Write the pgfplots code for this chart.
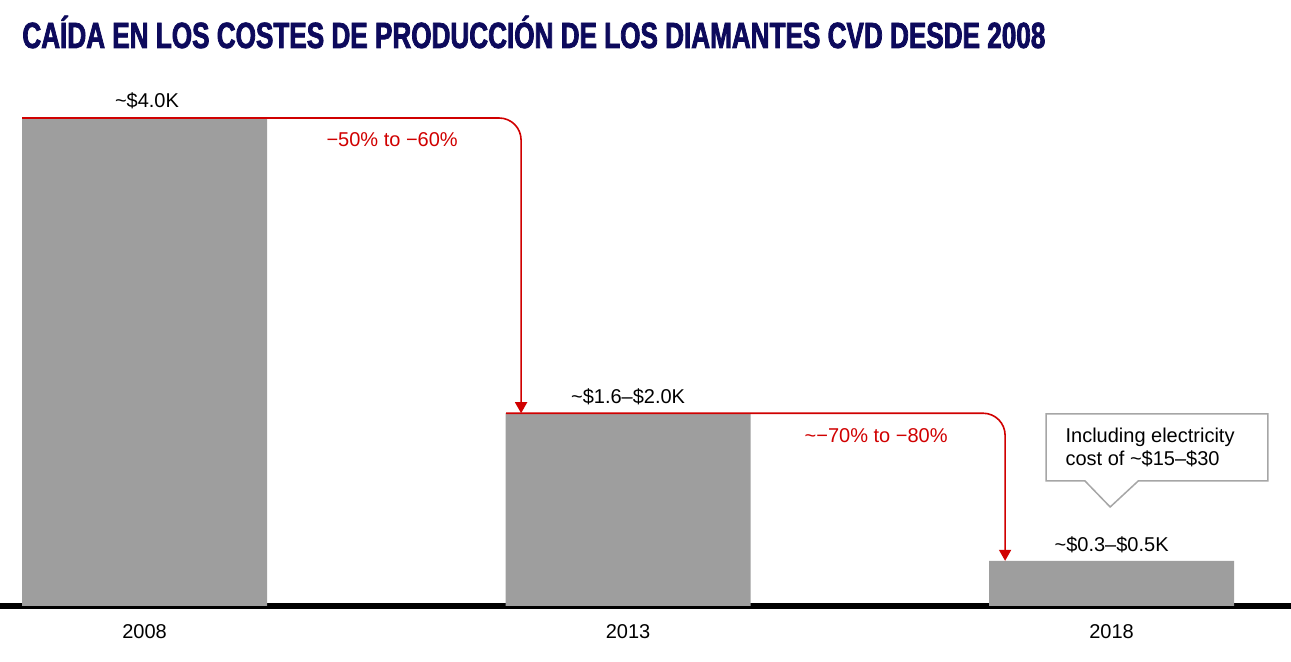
\documentclass[border=0pt]{standalone}
\usepackage{pgfplots}
\pgfplotsset{compat=1.18}
\usepackage{fontspec}
\usepackage{graphicx}
\usetikzlibrary{arrows.meta}
\setmainfont{Liberation Sans}
\newfontfamily\titlefont[FakeStretch=0.69,FakeBold=2]{Liberation Sans Bold}
\definecolor{bargray}{HTML}{9E9E9E}
\definecolor{arrred}{HTML}{D00000}
\definecolor{titlenavy}{HTML}{0D0A5C}
\definecolor{boxgray}{HTML}{A6A6A6}
\begin{document}
\begin{tikzpicture}
\useasboundingbox (0pt,-28pt) rectangle (645.5pt,303pt);
\begin{axis}[
  at={(0pt,0pt)}, anchor=south west,
  scale only axis,
  width=645.5pt, height=268.4pt,
  xmin=-0.299, xmax=2.371,
  ymin=0, ymax=4.4,
  axis x line=bottom, axis y line=none,
  x axis line style={-, line width=3pt, black},
  xtick={0,1,2},
  xticklabels={2008,2013,2018},
  major tick length=0pt,
  xticklabel style={font=\fontsize{10}{12}\selectfont, anchor=north, yshift=-5.6pt},
  ytick=\empty,
  clip=false,
]
\addplot[ybar, bar width=122.5pt, fill=bargray, draw=none] coordinates {(0,4.0) (1,1.58) (2,0.37)};

% connectors
\draw[arrred, line width=0.8pt, rounded corners=11pt, -{Triangle[width=6pt,length=5.5pt]}]
  (axis cs:-0.2534,4.0) -- (axis cs:0.7787,4.0) -- (axis cs:0.7787,1.58);
\draw[arrred, line width=0.8pt, rounded corners=11pt, -{Triangle[width=6pt,length=5.5pt]}]
  (axis cs:0.7477,1.58) -- (axis cs:1.7797,1.58) -- (axis cs:1.7797,0.37);

\node[font=\fontsize{10}{12}\selectfont, text=arrred] at (axis cs:0.512,3.82) {−50\% to −60\%};
\node[font=\fontsize{10}{12}\selectfont, text=arrred] at (axis cs:1.513,1.393) {\textasciitilde−70\% to −80\%};

\node[font=\fontsize{10}{12}\selectfont] at (axis cs:0.005,4.14) {\textasciitilde\$4.0K};
\node[font=\fontsize{10}{12}\selectfont] at (axis cs:1.0,1.713) {\textasciitilde\$1.6--\$2.0K};
\node[font=\fontsize{10}{12}\selectfont] at (axis cs:2.0,0.5) {\textasciitilde\$0.3--\$0.5K};

% callout
\draw[boxgray, line width=0.75pt, fill=white]
  (axis cs:1.8644,1.5738) -- (axis cs:2.3231,1.5738) -- (axis cs:2.3231,1.0246)
  -- (axis cs:2.055,1.0246) -- (axis cs:1.997,0.8115) -- (axis cs:1.945,1.0246)
  -- (axis cs:1.8644,1.0246) -- cycle;
\node[font=\fontsize{10}{12}\selectfont, anchor=base west, inner sep=0pt] at (axis cs:1.904,1.344) {Including electricity};
\node[font=\fontsize{10}{12}\selectfont, anchor=base west, inner sep=0pt] at (axis cs:1.904,1.148) {cost of \textasciitilde\$15--\$30};
\end{axis}
\node[anchor=base west, inner sep=0pt, text=titlenavy] at (11pt,279pt)
  {\resizebox{511.5pt}{\height}{\titlefont\fontsize{18.2}{20}\selectfont CAÍDA EN LOS COSTES DE PRODUCCIÓN DE LOS DIAMANTES CVD DESDE 2008}};
\end{tikzpicture}
\end{document}
